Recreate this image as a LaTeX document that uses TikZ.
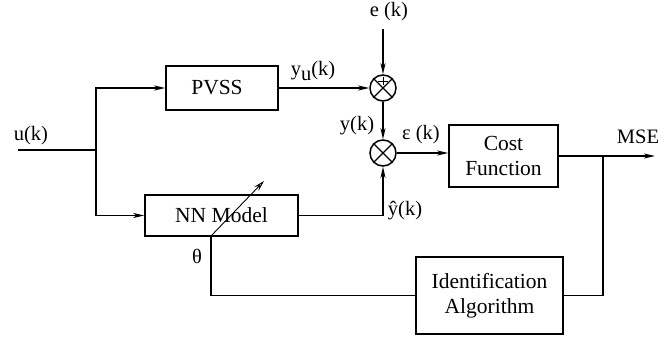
\documentclass[tikz,border=0pt]{standalone}
\usepackage{fontspec}
\setmainfont{Liberation Serif}
\usetikzlibrary{arrows.meta}
\begin{document}
\begin{tikzpicture}[x=1pt,y=-1pt,
  line width=1.5pt,
  blk/.style={draw, rectangle, inner sep=0pt, align=center,
    font=\fontsize{21.5}{25}\selectfont},
  sumj/.style={draw, circle, minimum size=26pt, inner sep=0pt},
  lbl/.style={inner sep=0pt, font=\fontsize{20.5}{24}\selectfont},
  sig/.style={-{Stealth[length=11pt,width=5pt,inset=3pt]}},
]
\useasboundingbox (0,0) rectangle (667,337);

% blocks
\node[blk, minimum width=112pt, minimum height=44pt] (pvss) at (222,88) {PVSS\hspace*{10pt}};
\node[blk, minimum width=153pt, minimum height=41pt] (nn) at (221.5,215.5) {NN Model};
\node[blk, minimum width=109pt, minimum height=62pt] (cost) at (503.5,156) {Cost\\Function};
\node[blk, minimum width=147pt, minimum height=77pt] (ident) at (489.5,295.5) {Identification\\Algorithm};

% summing junctions
\node[sumj] (s1) at (383,88) {};
\node[sumj] (s2) at (383,153) {};
\foreach \s in {s1,s2}{
  \draw[line width=1.2pt] (\s.north east) -- (\s.south west);
  \draw[line width=1.2pt] (\s.north west) -- (\s.south east);
}
\draw[line width=0.8pt] ([xshift=-5pt,yshift=7pt]s1.center) -- ([xshift=5pt,yshift=7pt]s1.center);
\draw[line width=0.8pt] ([yshift=11pt]s1.center) -- ([yshift=3pt]s1.center);

% free ends and branch points
\coordinate (uin) at (18,150);
\coordinate (sp) at (96,150);
\coordinate (etop) at (383,29);
\coordinate (tap) at (603,156);
\coordinate (mse) at (655,156);
\coordinate (th) at (211,236);
\coordinate (tune) at (264,181);

% connectors
\draw (uin) -- (sp);
\draw[sig] (sp) |- (pvss.west);
\draw[sig] (sp) |- (nn.west);
\draw[sig] (pvss.east) -- (s1.west);
\draw[sig] (etop) -- (s1.north);
\draw[sig] (s1.south) -- (s2.north);
\draw[sig] (nn.east) -| (s2.south);
\draw[sig] (s2.east) -- (s2.east -| cost.west);
\draw[sig] (cost.east) -- (mse);
\draw (tap) |- (ident.east);
\draw (ident.west) -| (th);
\draw[line width=0.9pt, -{Stealth[length=11pt,width=6pt,inset=4pt,fill=white]}] (th) -- (tune);

% signal labels
\node[lbl] (lu) at (31,136) {u(k)};
\node[lbl] (lyu) at (313,71) {y\raisebox{-0.45ex}{u}(k)};
\node[lbl] (le) at (389,12) {e (k)};
\node[lbl] (ly) at (357,126) {y(k)};
\node[lbl] (leps) at (421,135) {ε (k)};
\node[lbl] (lyh) at (405,211) {\^{y}(k)};
\node[lbl] (lmse) at (638,137) {MSE};
\node[lbl] (lth) at (197,256) {θ};
\end{tikzpicture}
\end{document}
